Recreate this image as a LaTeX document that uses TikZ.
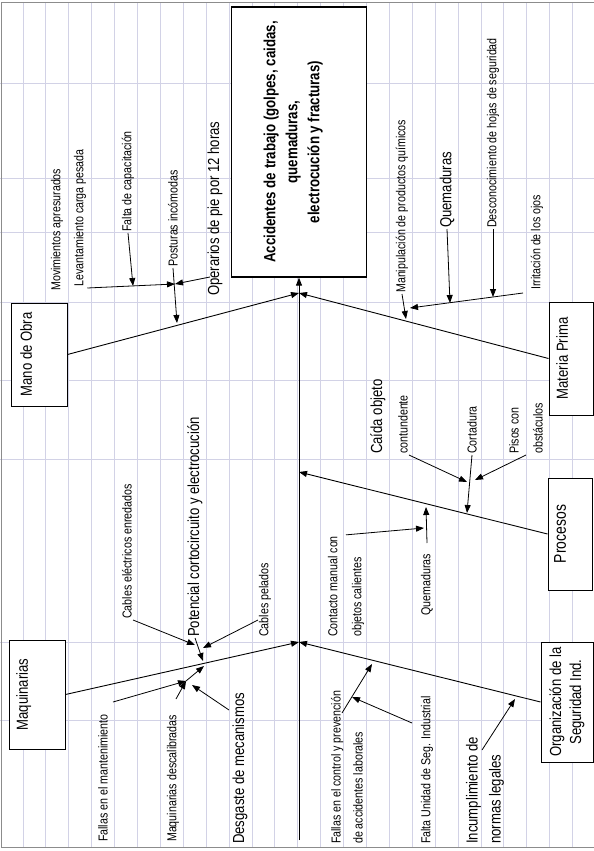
\documentclass[tikz,border=0pt]{standalone}
\usepackage{fontspec}
\setmainfont{Liberation Sans}[FakeStretch=0.82]
\usetikzlibrary{arrows.meta}
\definecolor{gridcol}{RGB}{210,210,230}
\definecolor{bordecol}{RGB}{140,140,140}

\begin{document}
\begin{tikzpicture}[
    x=1pt, y=-1pt,
    grilla/.style={draw=gridcol, line width=0.8pt},
    caja/.style={draw, fill=white, line width=1pt, rotate=90, inner sep=2pt, align=center, font=\fontsize{16}{20}\selectfont},
    causa/.style={rotate=90, anchor=west, inner sep=1pt, align=left, font=\fontsize{13}{24}\selectfont},
    causaG/.style={causa, font=\fontsize{16}{23}\selectfont},
    flecha/.style={-{Triangle[length=8pt,width=6pt]}, line width=0.8pt},
    hueso/.style={flecha, line width=0.9pt}
]
\useasboundingbox (0,0) rectangle (594,851);
\fill[white] (0,0) rectangle (594,851);

% hoja de calculo de fondo
\foreach \k in {1,...,25}
    \draw[grilla] (22.9*\k,3) -- (22.9*\k,847);
\foreach \y in {83,178,232,302,380,459,642,720}
    \draw[grilla] (0,\y) -- (594,\y);
\draw[bordecol, line width=1pt] (594,3) -- (1,3) -- (1,847) -- (594,847);

% efecto y categorias
\node[caja, line width=1.3pt, minimum width=270pt, minimum height=135pt, font=\bfseries\fontsize{16.2}{22}\selectfont, text depth=15pt] (efecto) at (299,142) {Accidentes de trabajo (golpes, caidas,\\quemaduras,\\electrocución y fracturas)};
\node[caja, minimum width=103pt, minimum height=56pt, text depth=26pt] (mano) at (39,354.5) {Mano de Obra};
\node[caja, minimum width=113pt, minimum height=44pt, text depth=18pt] (materia) at (571,358.5) {Materia Prima};
\node[caja, minimum width=112pt, minimum height=44pt, text depth=20pt, font=\fontsize{17}{20}\selectfont] (procesos) at (570,534) {Procesos};
\node[caja, minimum width=120pt, minimum height=52pt] (organizacion) at (567,702) {Organización de la\\Seguridad Ind.};
\node[caja, minimum width=109pt, minimum height=56pt, text depth=30pt] (maquinarias) at (37,694.5) {Maquinarias};

% espina
\coordinate (cola) at (299,840);
\coordinate (s1) at (299,293);
\coordinate (s2) at (299,472);
\coordinate (s3) at (299,642);
\draw[hueso] (cola) -- (efecto.west);
\draw[hueso] (mano.south) -- (s1);
\draw[hueso] (materia.north) -- (s1);
\draw[hueso] (procesos.north) -- (s2);
\draw[hueso] (organizacion.north) -- (s3);
\draw[hueso] (maquinarias.south) -- (s3);

% Mano de Obra
\node[causa] (movimientos) at (57,292) {Movimientos apresurados};
\node[causa] (levantamiento) at (80,288) {Levantamiento carga pesada};
\node[causa] (capacitacion) at (128,233) {Falta de capacitación};
\node[causa] (posturas) at (173,268) {Posturas incómodas};
\node[causaG] (operarios) at (215,297) {Operarios de pie por 12 horas};
\coordinate (jMano) at (175,284);
\coordinate (bMano) at (177,323);
\coordinate (cCap) at (133,286);
\coordinate (aOper) at (210,277);
\draw[flecha] (levantamiento.south west) -- (jMano);
\draw[flecha] (aOper) -- (jMano);
\draw[flecha] (capacitacion.west) -- (cCap);
\draw[flecha] (posturas.west) -- (bMano);

% Materia Prima
\node[causa] (manipulacion) at (402,294) {Manipulación de productos químicos};
\node[causaG] (quemadurasMP) at (447,229) {Quemaduras};
\node[causa] (desconocimiento) at (493,229) {Desconocimiento de hojas de seguridad};
\node[causa] (irritacion) at (537,291) {Irritación de los ojos};
\coordinate (bMat) at (406,319);
\coordinate (aIrr) at (523,293);
\coordinate (jMat) at (410,308);
\coordinate (cQue) at (450,303);
\coordinate (cDes) at (493,297);
\draw[flecha] (manipulacion.west) -- (bMat);
\draw[flecha] (aIrr) -- (jMat);
\draw[flecha] (quemadurasMP.west) -- (cQue);
\draw[flecha] (desconocimiento.west) -- (cDes);

% Procesos
\node[causaG] (caida) at (378,455) {Caída objeto};
\node[causa] (contundente) at (403,455) {contundente};
\node[causa] (cortadura) at (472,455) {Cortadura};
\node[causa] (pisos) at (526,455) {Pisos con\\obstáculos};
\node[causa] (quemadurasPr) at (427,617) {Quemaduras};
\node[causa] (contacto) at (346,638) {Contacto manual con\\objetos calientes};
\coordinate (jProc) at (467,482);
\coordinate (bProc) at (467,513);
\coordinate (jPis) at (475,480);
\coordinate (aQue) at (427,543);
\coordinate (bProc2) at (426,507);
\coordinate (cCon) at (424,528);
\draw[flecha] (contundente.south west) -- (jProc);
\draw[flecha] (cortadura.west) -- (bProc);
\draw[flecha] (pisos.west) -- (jPis);
\draw[flecha] (aQue) -- (bProc2);
\draw[flecha] (contacto.east) -- (cCon);

% Maquinarias
\node[causa] (enredados) at (127,620) {Cables eléctricos enredados};
\node[causaG] (potencial) at (195,638) {Potencial cortocircuito y electrocución};
\node[causa] (pelados) at (265,638) {Cables pelados};
\node[causa] (mantenimiento) at (103,843) {Fallas en el mantenimiento};
\node[causa] (descalibradas) at (173,843) {Maquinarias descalibradas};
\node[causaG] (desgaste) at (240,845) {Desgaste de mecanismos};
\coordinate (bMaq) at (203,661);
\coordinate (cEnr) at (195,645);
\coordinate (aPel) at (258,620);
\coordinate (cPel) at (203,648);
\coordinate (jMaq) at (186,681);
\coordinate (jDsg) at (192,685);
\coordinate (aMan) at (113,702);
\coordinate (aDes) at (176,699);
\coordinate (aDsg) at (229,710);
\coordinate (bMaq2) at (204,666);
\draw[flecha] (enredados.south west) -- (cEnr);
\draw[flecha] (aPel) -- (cPel);
\draw[flecha] (potencial.west) -- (bMaq);
\draw[flecha] (aMan) -- (jMaq);
\draw[flecha] (aDes) -- (jMaq);
\draw[flecha] (aDsg) -- (jDsg);
\draw[flecha] (jMaq) -- (bMaq2);

% Organizacion de la Seguridad Ind.
\node[causa, font=\fontsize{13}{22}\selectfont] (control) at (347,845) {Fallas en el control y prevención\\de accidentes laborales};
\node[causa] (unidad) at (427,845) {Falta Unidad de Seg. Industrial};
\node[causaG] (incumplimiento) at (485,845) {Incumplimiento de\\normas legales};
\coordinate (aCtl) at (342,713);
\coordinate (bOrg) at (372,664);
\coordinate (aUni) at (412,723);
\coordinate (cCtl) at (352,697);
\coordinate (aInc) at (482,750);
\coordinate (bOrg2) at (515,699);
\draw[flecha] (aCtl) -- (bOrg);
\draw[flecha] (aUni) -- (cCtl);
\draw[flecha] (aInc) -- (bOrg2);
\end{tikzpicture}
\end{document}
